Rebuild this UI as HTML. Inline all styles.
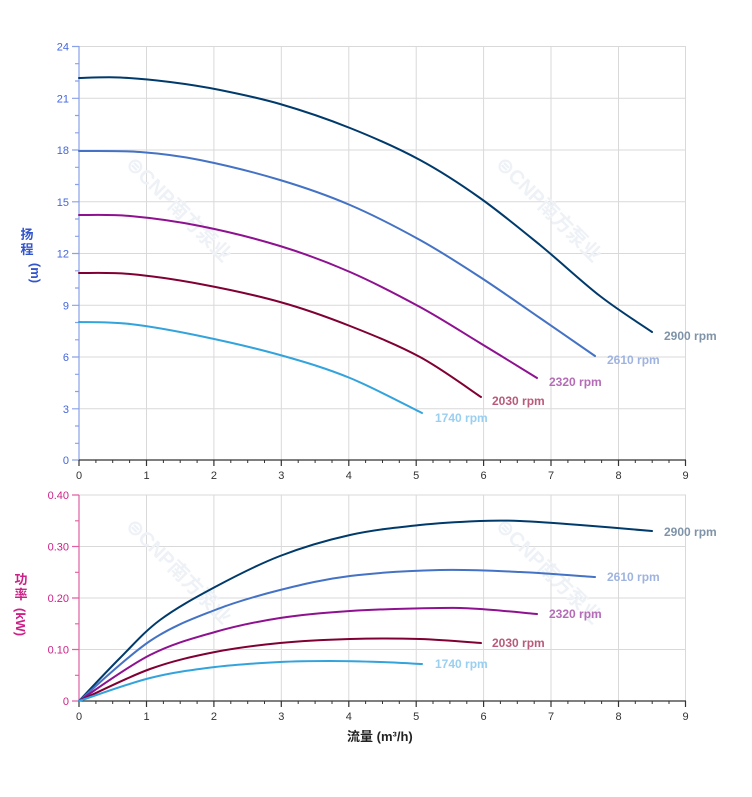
<!DOCTYPE html>
<html><head><meta charset="utf-8"><style>
html,body{margin:0;padding:0;background:#fff;width:752px;height:797px;overflow:hidden}
svg{display:block;font-family:"Liberation Sans","Noto Sans CJK SC",sans-serif}
</style></head><body>
<svg width="752" height="797" xmlns="http://www.w3.org/2000/svg">
<g stroke="#d9d9d9" stroke-width="1" fill="none">
<path d="M146.5 46V460M213.9 46V460M281.3 46V460M348.8 46V460M416.2 46V460M483.6 46V460M551 46V460M618.5 46V460M685.5 46V460"/>
<path d="M79 46.5H686M79 98.3H686M79 150H686M79 201.8H686M79 253.5H686M79 305.3H686M79 357H686M79 408.8H686"/>
<path d="M146.5 495V701M213.9 495V701M281.3 495V701M348.8 495V701M416.2 495V701M483.6 495V701M551 495V701M618.5 495V701M685.5 495V701"/>
<path d="M79 495H686M79 546.5H686M79 598H686M79 649.5H686"/>
</g>
<g fill="#eef2f7" font-size="20" font-weight="bold">
<text transform="translate(125,165) rotate(45)">⊜CNP南方泵业</text>
<text transform="translate(495,165) rotate(45)">⊜CNP南方泵业</text>
<text transform="translate(125,527) rotate(45)">⊜CNP南方泵业</text>
<text transform="translate(495,527) rotate(45)">⊜CNP南方泵业</text>
</g>
<g stroke="#8aa0e8" stroke-width="1.2"><path d="M79 46V460"/><path d="M72 46.5H79M72 98.3H79M72 150H79M72 201.8H79M72 253.5H79M72 305.3H79M72 357H79M72 408.8H79M72 460H79"/>
<path d="M75 63.7H79M75 81H79M75 115.5H79M75 132.8H79M75 167.3H79M75 184.5H79M75 219H79M75 236.3H79M75 270.8H79M75 288H79M75 322.5H79M75 339.8H79M75 374.3H79M75 391.5H79M75 426H79M75 443.3H79"/></g>
<g stroke="#e060a0" stroke-width="1.2"><path d="M79 495V701"/><path d="M72 495H79M72 546.5H79M72 598H79M72 649.5H79M72 701H79M75 520.8H79M75 572.3H79M75 623.8H79M75 675.3H79"/></g>
<g stroke="#333" stroke-width="1.2"><path d="M79 460H686M79 701H686"/>
<path d="M79 460v6M146.5 460v6M213.9 460v6M281.3 460v6M348.8 460v6M416.2 460v6M483.6 460v6M551 460v6M618.5 460v6M685.5 460v6M79 701v6M146.5 701v6M213.9 701v6M281.3 701v6M348.8 701v6M416.2 701v6M483.6 701v6M551 701v6M618.5 701v6M685.5 701v6"/></g>
<g stroke="#333" stroke-width="1"><path d="M95.9 460v3M112.7 460v3M129.6 460v3M163.4 460v3M180.2 460v3M197.1 460v3M230.8 460v3M247.7 460v3M264.5 460v3M298.2 460v3M315.1 460v3M332 460v3M365.6 460v3M382.5 460v3M399.3 460v3M433 460v3M449.9 460v3M466.8 460v3M500.4 460v3M517.3 460v3M534.2 460v3M567.9 460v3M584.7 460v3M601.6 460v3M635.3 460v3M652.2 460v3M669 460v3"/>
<path d="M95.9 701v3M112.7 701v3M129.6 701v3M163.4 701v3M180.2 701v3M197.1 701v3M230.8 701v3M247.7 701v3M264.5 701v3M298.2 701v3M315.1 701v3M332 701v3M365.6 701v3M382.5 701v3M399.3 701v3M433 701v3M449.9 701v3M466.8 701v3M500.4 701v3M517.3 701v3M534.2 701v3M567.9 701v3M584.7 701v3M601.6 701v3M635.3 701v3M652.2 701v3M669 701v3"/></g>
<g font-size="11" fill="#4466dd" text-anchor="end">
<text x="69" y="50.5">24</text><text x="69" y="102.3">21</text><text x="69" y="154">18</text><text x="69" y="205.8">15</text><text x="69" y="257.5">12</text><text x="69" y="309.3">9</text><text x="69" y="361">6</text><text x="69" y="412.8">3</text><text x="69" y="464">0</text></g>
<g font-size="11" fill="#cc2288" text-anchor="end">
<text x="69" y="499">0.40</text><text x="69" y="550.5">0.30</text><text x="69" y="602">0.20</text><text x="69" y="653.5">0.10</text><text x="69" y="705">0</text></g>
<g font-size="11" fill="#333" text-anchor="middle">
<text x="79" y="479">0</text><text x="146.5" y="479">1</text><text x="213.9" y="479">2</text><text x="281.3" y="479">3</text><text x="348.8" y="479">4</text><text x="416.2" y="479">5</text><text x="483.6" y="479">6</text><text x="551" y="479">7</text><text x="618.5" y="479">8</text><text x="685.5" y="479">9</text>
<text x="79" y="720">0</text><text x="146.5" y="720">1</text><text x="213.9" y="720">2</text><text x="281.3" y="720">3</text><text x="348.8" y="720">4</text><text x="416.2" y="720">5</text><text x="483.6" y="720">6</text><text x="551" y="720">7</text><text x="618.5" y="720">8</text><text x="685.5" y="720">9</text></g>
<text x="347" y="741" font-size="13" font-weight="bold" fill="#222">流量 (m³/h)</text>
<g font-size="13" font-weight="bold" fill="#3355cc" text-anchor="middle"><text x="27" y="239">扬</text><text x="27" y="254">程</text><text transform="translate(31,273) rotate(90)">(m)</text></g>
<g font-size="13" font-weight="bold" fill="#cc2288" text-anchor="middle"><text x="21" y="584">功</text><text x="21" y="599">率</text><text transform="translate(16,622) rotate(90)">(kW)</text></g>
<g id="curves" fill="none" stroke-width="2" stroke-linejoin="round" stroke-linecap="round">
<polyline stroke="#003a6b" points="79,78 120,77.5 170,82 220,90 280,104 350,128 420,160 480,198 540,245 600,296 652,332"/>
<polyline stroke="#4472c4" points="79,151 140,152 200,160 280,180 350,205 420,240 480,277 540,318 595,356"/>
<polyline stroke="#8e1190" points="79,215 130,216 200,226 280,246 350,272 420,307 480,343 537,378"/>
<polyline stroke="#800033" points="79,273 130,274 200,284 280,302 350,326 420,357 481,397"/>
<polyline stroke="#33a3dc" points="79,322 130,324 200,336 280,355 350,378 422,413"/>
<polyline stroke="#003a6b" points="79,701 120,658 160,620 215,587 280,556 350,535 420,525 480,521 520,521 580,525 652,531"/>
<polyline stroke="#4472c4" points="79,701 150,641 215,610 280,590 350,576 440,570 520,572 595,577"/>
<polyline stroke="#8e1190" points="79,701 150,655 215,632 280,618 350,611 440,608 480,609 537,614"/>
<polyline stroke="#800033" points="79,701 150,669 215,652 280,643 350,639 420,639 481,643"/>
<polyline stroke="#33a3dc" points="79,701 150,678 215,667 280,662 330,661 380,662 422,664"/>
</g>
<g font-size="12" font-weight="bold">
<text x="664" y="340" fill="#7f93a8">2900 rpm</text><text x="607" y="364" fill="#9fb3e0">2610 rpm</text><text x="549" y="386" fill="#b46cb6">2320 rpm</text><text x="492" y="405" fill="#b85a7a">2030 rpm</text><text x="435" y="422" fill="#99cff0">1740 rpm</text>
<text x="664" y="536" fill="#7f93a8">2900 rpm</text><text x="607" y="581" fill="#9fb3e0">2610 rpm</text><text x="549" y="618" fill="#b46cb6">2320 rpm</text><text x="492" y="647" fill="#b85a7a">2030 rpm</text><text x="435" y="668" fill="#99cff0">1740 rpm</text>
</g>
</svg>
<script>
document.querySelectorAll('#curves polyline').forEach(function(pl){
 var p=pl.getAttribute('points').trim().split(/\s+/).map(function(s){return s.split(',').map(Number);});
 var d='M'+p[0][0]+' '+p[0][1];
 for(var i=0;i<p.length-1;i++){
  var p0=p[i>0?i-1:i],p1=p[i],p2=p[i+1],p3=p[i+2<p.length?i+2:i+1];
  var c1x=p1[0]+(p2[0]-p0[0])/6,c1y=p1[1]+(p2[1]-p0[1])/6;
  var c2x=p2[0]-(p3[0]-p1[0])/6,c2y=p2[1]-(p3[1]-p1[1])/6;
  d+=' C'+c1x.toFixed(1)+' '+c1y.toFixed(1)+' '+c2x.toFixed(1)+' '+c2y.toFixed(1)+' '+p2[0]+' '+p2[1];
 }
 var path=document.createElementNS('http://www.w3.org/2000/svg','path');
 path.setAttribute('d',d);path.setAttribute('stroke',pl.getAttribute('stroke'));
 pl.parentNode.replaceChild(path,pl);
});
</script>
</body></html>
